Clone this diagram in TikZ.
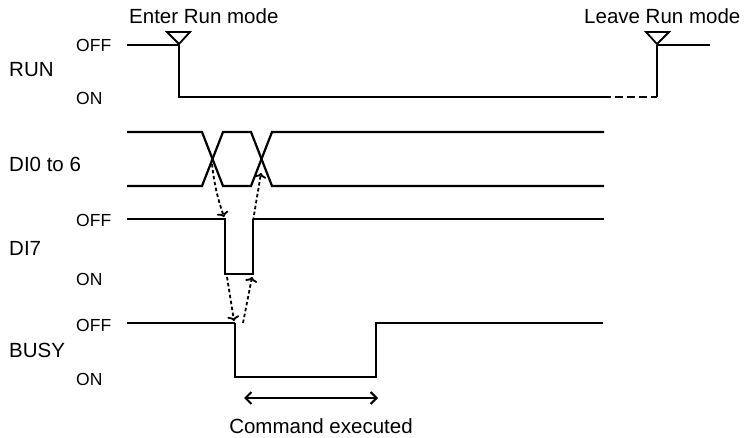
\documentclass[tikz,border=0pt]{standalone}
\usepackage{fontspec}
\setmainfont{Liberation Sans}
\usetikzlibrary{arrows.meta}

\begin{document}
\begin{tikzpicture}[x=1pt, y=-1pt,
  sig/.style={line width=2.2pt},
  thinsig/.style={line width=1.5pt},
  lvl/.style={font=\fontsize{17.5}{17.5}\selectfont, anchor=west, inner sep=0pt},
  namelbl/.style={font=\fontsize{20.5}{20.5}\selectfont, anchor=west, inner sep=0pt},
  trig/.style={line width=1.8pt, line join=miter},
  cause/.style={line width=1.8pt, dash pattern=on 3.5pt off 2.5pt, -{To[length=5pt,width=12pt]}},
  span/.style={line width=2pt, {Straight Barb[length=6pt,width=12pt]}-{Straight Barb[length=6pt,width=12pt]}}]
  \useasboundingbox (0,0) rectangle (751,438);

  % RUN
  \node[namelbl, anchor=base west] (enter) at (129,24) {Enter Run mode};
  \node[namelbl, anchor=base west] (leave) at (584,24) {Leave Run mode};
  \node[namelbl] (run) at (9,70) {RUN};
  \node[lvl] (runoff) at (76,45) {OFF};
  \node[lvl] (runon) at (76,98) {ON};
  \draw[thinsig] (127,45) -- (179,45);
  \draw[sig] (179,45) -- (179,97) -- (603,97);
  \draw[sig, dash pattern=on 8pt off 4pt] (603,97) -- (657,97);
  \draw[sig] (657,97) -- (657,45);
  \draw[thinsig] (657,45) -- (710,45);
  \draw[trig] (167,32) -- (190,32) -- (179,44) -- cycle;
  \draw[trig] (646,32) -- (669,32) -- (657,44) -- cycle;

  % DI0 to 6
  \node[namelbl] (di) at (9,164) {DI0 to 6};
  \draw[sig] (127,132) -- (202,132) -- (223,186) -- (251,186) -- (272,132) -- (604,132);
  \draw[sig] (127,186) -- (202,186) -- (223,132) -- (251,132) -- (272,186) -- (604,186);

  % DI7
  \node[namelbl] (di7) at (9,248) {DI7};
  \node[lvl] (di7off) at (76,220) {OFF};
  \node[lvl] (di7on) at (76,279) {ON};
  \draw[sig] (127,219) -- (225,219) -- (225,274) -- (253,274) -- (253,219);
  \draw[thinsig] (253,219) -- (604,219);

  % BUSY
  \node[namelbl] (busy) at (9,350) {BUSY};
  \node[lvl] (busyoff) at (76,325) {OFF};
  \node[lvl] (busyon) at (76,379) {ON};
  \draw[thinsig] (127,323) -- (235,323);
  \draw[sig] (235,323) -- (235,377) -- (376,377) -- (376,323) -- (603,323);

  % handshake
  \coordinate (x1) at (212,164);
  \coordinate (f7) at (224,217);
  \coordinate (r7) at (253,221);
  \coordinate (x2) at (261,173);
  \coordinate (b7) at (227,277);
  \coordinate (fb) at (234,321);
  \coordinate (bb) at (243,323);
  \coordinate (b7r) at (252,277);
  \draw[cause] (x1) to[bend right=6] (f7);
  \draw[cause] (r7) -- (x2);
  \draw[cause] (b7) -- (fb);
  \draw[cause] (bb) -- (b7r);

  % execution time
  \coordinate (cs) at (244,398);
  \coordinate (ce) at (378,398);
  \draw[span] (cs) -- (ce);
  \node[namelbl, anchor=center] (cmd) at (321,426) {Command executed};
\end{tikzpicture}
\end{document}
